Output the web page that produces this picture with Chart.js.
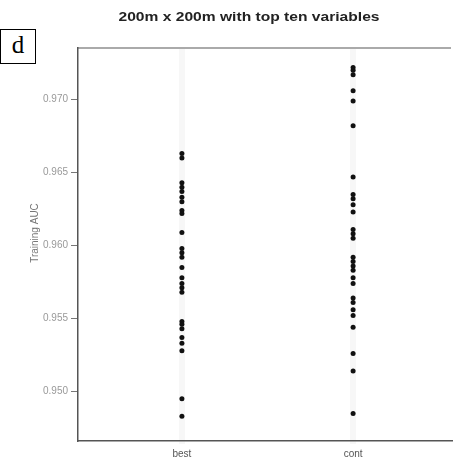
<!DOCTYPE html>
<html>
<head>
<meta charset="utf-8">
<script src="https://cdn.jsdelivr.net/npm/chart.js@4/dist/chart.umd.min.js"></script>
<style>
  html, body { margin: 0; padding: 0; background: #fff; }
  #wrap { position: relative; width: 454px; height: 464px; }
  #tag { position: absolute; left: 0; top: 29px; width: 34px; height: 33px; border: 1px solid #000; background: #fff;
         font-family: "Liberation Serif", "DejaVu Serif", serif; font-size: 25px; line-height: 29px; text-align: center; }
</style>
</head>
<body>
<div id="wrap">
  <canvas id="c" width="454" height="464"></canvas>
  <div id="tag">d</div>
</div>
<script>
const chartTitle = "200m x 200m with top ten variables";
const yAxisTitle = "Training AUC";
const categories = ["best", "cont"];
const yTicks = [0.950, 0.955, 0.960, 0.965, 0.970];
const bestValues = [0.9663, 0.9660, 0.9643, 0.9640, 0.9637, 0.9633, 0.9630, 0.9624, 0.9622, 0.9609,
                    0.9598, 0.9595, 0.9592, 0.9585, 0.9578, 0.9574, 0.9571, 0.9568, 0.9548, 0.9546,
                    0.9543, 0.9537, 0.9533, 0.9528, 0.9495, 0.9483];
const contValues = [0.9722, 0.9720, 0.9717, 0.9706, 0.9699, 0.9682, 0.9647, 0.9635, 0.9632, 0.9628,
                    0.9623, 0.9611, 0.9608, 0.9605, 0.9592, 0.9589, 0.9586, 0.9583, 0.9578, 0.9574,
                    0.9564, 0.9561, 0.9556, 0.9552, 0.9544, 0.9526, 0.9514, 0.9485];

const seriesList = [bestValues, contValues];
const datasets = seriesList.map((vals, i) => ({
  label: categories[i],
  data: vals.map(v => ({ x: i + 1, y: v })),
  pointRadius: 2.5,
  pointBackgroundColor: '#111',
  pointBorderWidth: 0,
  showLine: false
}));

const textPlugin = {
  id: 'texts',
  afterDraw(chart) {
    const ctx = chart.ctx;
    ctx.save();
    ctx.font = 'bold 12px "Liberation Sans", Arial, sans-serif';
    ctx.fillStyle = '#222';
    ctx.textAlign = 'center';
    ctx.textBaseline = 'middle';
    ctx.translate(249, 18);
    ctx.scale(1.3, 1);
    ctx.fillText(chartTitle, 0, 0);
    ctx.restore();

    ctx.save();
    ctx.font = '10px "Liberation Sans", Arial, sans-serif';
    ctx.fillStyle = '#777';
    ctx.textAlign = 'center';
    ctx.textBaseline = 'middle';
    ctx.translate(35, 233);
    ctx.rotate(-Math.PI / 2);
    ctx.fillText(yAxisTitle, 0, 0);
    ctx.restore();
  }
};

new Chart(document.getElementById('c'), {
  type: 'scatter',
  data: { datasets },
  plugins: [textPlugin],
  options: {
    responsive: false,
    animation: false,
    layout: { padding: { top: 48, right: 0, left: 0, bottom: 0 } },
    plugins: { legend: { display: false }, tooltip: { enabled: false }, title: { display: false } },
    scales: {
      x: {
        type: 'linear',
        min: 0.393,
        max: 2.566,
        afterBuildTicks(scale) { scale.ticks = categories.map((c, i) => ({ value: i + 1 })); },
        afterFit(scale) { scale.height = 23; },
        ticks: {
          callback: (v) => categories[v - 1],
          font: { family: '"Liberation Sans", Arial, sans-serif', size: 10 },
          color: '#555',
          padding: 4,
          maxRotation: 0
        },
        grid: { color: 'rgba(0,0,0,0.03)', lineWidth: 6, tickLength: 3, drawOnChartArea: true },
        border: { display: true, color: '#555', width: 1.5 }
      },
      x2: {
        type: 'linear',
        position: 'top',
        min: 0.393,
        max: 2.566,
        afterFit(scale) { scale.height = 0; },
        ticks: { display: false },
        grid: { display: false, drawTicks: false },
        border: { display: true, color: '#aaa', width: 2 }
      },
      y: {
        min: 0.94661,
        max: 0.97353,
        afterBuildTicks(scale) { scale.ticks = yTicks.map(v => ({ value: v })); },
        afterFit(scale) { scale.width = 78; },
        ticks: {
          callback: (v) => v.toFixed(3),
          font: { family: '"Liberation Sans", Arial, sans-serif', size: 10 },
          color: '#999',
          padding: 3
        },
        grid: { drawOnChartArea: false, tickLength: 7, color: '#777' },
        border: { display: true, color: '#555', width: 1.5 }
      }
    }
  }
});
</script>
</body>
</html>
